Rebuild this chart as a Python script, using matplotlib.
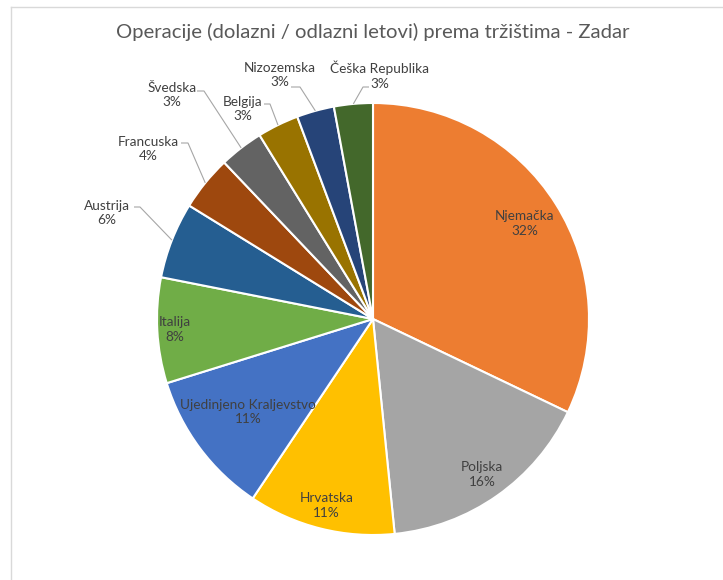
import numpy as np
import matplotlib.pyplot as plt
from matplotlib.lines import Line2D

# udjeli po trzistima (citano s grafa, u %)
markets = ['Njemačka', 'Poljska', 'Hrvatska', 'Ujedinjeno Kraljevstvo', 'Italija',
           'Austrija', 'Francuska', 'Švedska', 'Belgija', 'Nizozemska', 'Češka Republika']
shares = [32.1, 16.3, 11.0, 10.8, 7.9, 5.7, 4.1, 3.3, 3.1, 2.8, 2.9]
colors = ['#ED7D31', '#A5A5A5', '#FFC000', '#4472C4', '#70AD47', '#255E91',
          '#9E480E', '#636363', '#997300', '#264478', '#43682B']
title = 'Operacije (dolazni / odlazni letovi) prema tržištima - Zadar'

W, H = 723, 580
cx, cy, R = 373, H - 319, 216

# labele unutar kriske: udaljenost od sredista (udio radijusa)
inside = {'Njemačka': 0.83, 'Poljska': 0.88, 'Hrvatska': 0.89,
          'Ujedinjeno Kraljevstvo': 0.72, 'Italija': 0.92}
# labele izvan: sredina teksta i pocetak linije (slikovne koordinate)
outside = {
    'Austrija': ((107, 213), (134, 207), (140, 207)),
    'Francuska': ((148, 149), (181, 143), (188, 143)),
    'Švedska': ((172, 95), (197, 91), (204, 91)),
    'Belgija': ((243, 109), (264, 104), (270, 104)),
    'Nizozemska': ((280, 75), (291, 87), (300, 87)),
    'Češka Republika': ((380, 75), (369, 87), (363, 87)),
}

plt.rcParams['font.family'] = ['Lato', 'DejaVu Sans']
txt_col = '#404040'

fig = plt.figure(figsize=(W / 100, H / 100), dpi=100)
ax = fig.add_axes([0, 0, 1, 1])
wedges, _ = ax.pie(shares, colors=colors, startangle=90, counterclock=False,
                   center=(cx, cy), radius=R,
                   wedgeprops=dict(edgecolor='white', linewidth=1.5))
ax.set_xlim(0, W)
ax.set_ylim(0, H)
ax.set_aspect('equal')
ax.axis('off')

for w, name, v in zip(wedges, markets, shares):
    mid = np.deg2rad((w.theta1 + w.theta2) / 2)
    lab = '%s\n%d%%' % (name, round(v))
    if name in inside:
        f = inside[name]
        ax.text(cx + f * R * np.cos(mid), cy + f * R * np.sin(mid), lab,
                ha='center', va='center', fontsize=9.8, color=txt_col, linespacing=1.25)
    else:
        (tx, ty), p0, p1 = outside[name]
        ax.text(tx, H - ty, lab, ha='center', va='center', fontsize=9.8,
                color=txt_col, linespacing=1.25)
        ex, ey = cx + R * np.cos(mid), cy + R * np.sin(mid)
        ax.plot([p0[0], p1[0], ex], [H - p0[1], H - p1[1], ey],
                color='#a6a6a6', lw=0.8, solid_capstyle='butt')

fig.text(373 / W, 1 - 32 / H, title, ha='center', va='center',
         fontsize=14.6, color='#595959')

# okvir grafikona
fig.add_artist(Line2D([11 / W, 1], [1 - 7 / H, 1 - 7 / H], color='#d9d9d9', lw=1))
fig.add_artist(Line2D([11 / W, 11 / W], [0, 1 - 7 / H], color='#d9d9d9', lw=1))

fig.savefig('out.png', dpi=100, facecolor='white')
